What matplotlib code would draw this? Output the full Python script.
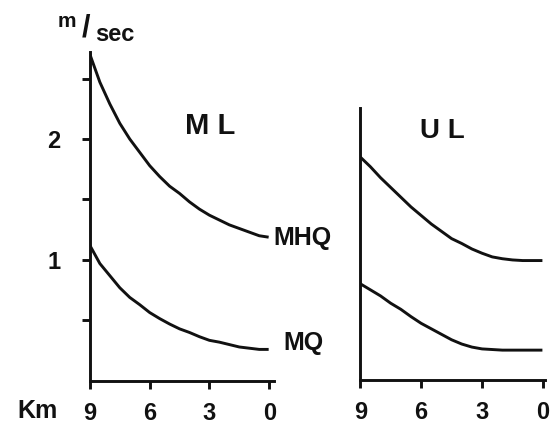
import matplotlib.pyplot as plt

plt.rcParams['font.family'] = ['Liberation Sans', 'DejaVu Sans']
plt.rcParams['font.weight'] = 'bold'

# Data (distance in km, velocity in m/sec)
km = [9, 8.5, 8, 7.5, 7, 6.5, 6, 5.5, 5, 4.5, 4, 3.5, 3, 2.5, 2, 1.5, 1, 0.5, 0.1]
ml_mhq = [2.70, 2.47, 2.29, 2.13, 2.00, 1.89, 1.78, 1.69, 1.61, 1.55,
          1.48, 1.42, 1.37, 1.33, 1.29, 1.26, 1.23, 1.20, 1.19]
ml_mq = [1.12, 0.97, 0.87, 0.77, 0.69, 0.63, 0.565, 0.515, 0.47, 0.43,
         0.40, 0.365, 0.335, 0.32, 0.30, 0.28, 0.27, 0.26, 0.26]
ul_mhq = [1.83, 1.75, 1.66, 1.58, 1.50, 1.42, 1.35, 1.28, 1.22, 1.16,
          1.12, 1.075, 1.04, 1.01, 0.995, 0.985, 0.98, 0.98, 0.98]
ul_mq = [0.79, 0.74, 0.69, 0.63, 0.58, 0.52, 0.465, 0.42, 0.375, 0.33,
         0.295, 0.27, 0.255, 0.25, 0.245, 0.245, 0.245, 0.245, 0.245]

xticks = [9, 6, 3, 0]
xticklabels = ['9', '6', '3', '0']
yticks = [0.5, 1, 1.5, 2, 2.5]
yticklabels = ['', '1', '', '2', '']

ink = '#111111'
lw = 2.1

fig = plt.figure(figsize=(5.55, 4.26), dpi=100)

ax1 = fig.add_axes([0.162, 0.106, 0.332, 0.772])
ax2 = fig.add_axes([0.649, 0.108, 0.333, 0.638])

for ax in (ax1, ax2):
    ax.spines['top'].set_visible(False)
    ax.spines['right'].set_visible(False)
    for s in ('left', 'bottom'):
        ax.spines[s].set_linewidth(lw)
        ax.spines[s].set_color(ink)
    ax.set_xticks(xticks)
    ax.set_xticklabels(xticklabels)
    ax.tick_params(axis='x', direction='out', length=6, width=lw, color=ink,
                   labelsize=17, pad=9, labelcolor=ink)

# ML panel
ax1.plot(km, ml_mhq, color=ink, lw=lw)
ax1.plot(km, ml_mq, color=ink, lw=lw)
ax1.set_xlim(9, -0.25)
ax1.set_ylim(0, 2.72)
ax1.set_yticks(yticks)
ax1.set_yticklabels(yticklabels)
ax1.tick_params(axis='y', direction='out', length=6, width=lw, color=ink,
                labelsize=17, pad=15, labelcolor=ink)
ax1.text(4.23, 2.11, 'M L', fontsize=21, fontweight='bold', color=ink, va='center')
ax1.text(-0.2, 1.18, 'MHQ', fontsize=18, fontweight='bold', color=ink,
         va='center', clip_on=False)
ax1.text(-0.7, 0.31, 'MQ', fontsize=18, fontweight='bold', color=ink,
         va='center', clip_on=False)

# UL panel
ax2.plot(km, ul_mhq, color=ink, lw=lw)
ax2.plot(km, ul_mq, color=ink, lw=lw)
ax2.set_xlim(9, -0.1)
ax2.set_ylim(0, 2.23)
ax2.set_yticks([])
ax2.text(6.04, 2.04, 'U L', fontsize=20, fontweight='bold', color=ink, va='center')

# axis unit labels
fig.text(0.1045, 0.950, 'm', fontsize=15, fontweight='bold', color=ink, va='center')
fig.text(0.155, 0.934, '/', fontsize=22, fontweight='bold', color=ink,
         ha='center', va='center')
fig.text(0.207, 0.918, 'sec', fontsize=17, fontweight='bold', color=ink,
         ha='center', va='center')
fig.text(0.031, 0.036, 'Km', fontsize=18, fontweight='bold', color=ink, va='center')

fig.savefig('out.png', dpi=100)
